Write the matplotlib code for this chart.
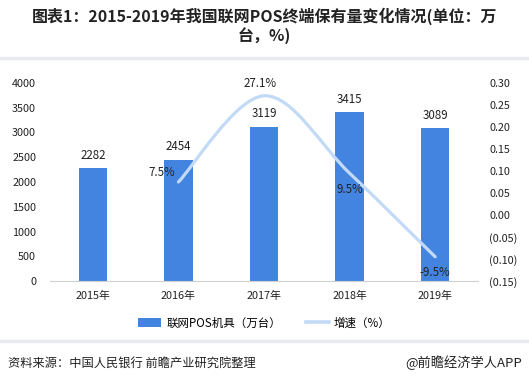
import matplotlib
matplotlib.use('Agg')
import matplotlib.pyplot as plt
from matplotlib.path import Path
from matplotlib.patches import PathPatch
from matplotlib.ticker import FuncFormatter, MultipleLocator
from matplotlib.lines import Line2D
from matplotlib.patches import Patch

plt.rcParams['font.family'] = ['Noto Sans CJK SC', 'DejaVu Sans']

years = ['2015年', '2016年', '2017年', '2018年', '2019年']
pos_counts = [2282, 2454, 3119, 3415, 3089]
growth_years = [1, 2, 3, 4]
growth = [0.075, 0.271, 0.095, -0.095]
growth_labels = ['7.5%', '27.1%', '9.5%', '-9.5%']

bar_color = '#4384E0'
line_color = '#C2DAF6'

fig = plt.figure(figsize=(5.29, 3.86), dpi=100)
ax = fig.add_axes([50 / 529, 1 - 281 / 386, 428 / 529, 198 / 386])
ax2 = ax.twinx()

x = list(range(len(years)))
ax.bar(x, pos_counts, width=0.33, color=bar_color, zorder=2)
for xi, v in zip(x, pos_counts):
    ax.annotate(str(v), (xi, v), xytext=(0, 4.5), textcoords='offset points',
                ha='center', va='bottom', fontsize=8.3, color='#222222')

ax.set_xlim(-0.5, len(years) - 0.5)
ax.set_ylim(0, 4000)
ax.yaxis.set_major_locator(MultipleLocator(500))
ax.set_xticks(x)
ax.set_xticklabels(years)
ax.tick_params(axis='both', length=0, labelsize=7.8, colors='#222222')
ax.tick_params(axis='x', pad=7)
ax.tick_params(axis='y', pad=10)
for s in ['top', 'left', 'right']:
    ax.spines[s].set_visible(False)
ax.spines['bottom'].set_color('#D0D0D0')

# smooth line through growth points (Catmull-Rom style bezier)
pts = list(zip(growth_years, growth))
verts = [pts[0]]
codes = [Path.MOVETO]
n = len(pts)
for i in range(n - 1):
    p0 = pts[i - 1] if i > 0 else pts[i]
    p1 = pts[i]
    p2 = pts[i + 1]
    p3 = pts[i + 2] if i + 2 < n else pts[i + 1]
    c1 = (p1[0] + (p2[0] - p0[0]) / 6, p1[1] + (p2[1] - p0[1]) / 6)
    c2 = (p2[0] - (p3[0] - p1[0]) / 6, p2[1] - (p3[1] - p1[1]) / 6)
    verts += [c1, c2, p2]
    codes += [Path.CURVE4, Path.CURVE4, Path.CURVE4]
ax2.add_patch(PathPatch(Path(verts, codes), facecolor='none',
                        edgecolor=line_color, lw=2.3, capstyle='round', zorder=3))

offsets = [(-12, 7), (-3, 9), (0, -12), (0, -11.5)]
for xi, v, lab, off in zip(growth_years, growth, growth_labels, offsets):
    ax2.annotate(lab, (xi, v), xytext=off, textcoords='offset points',
                 ha='center', va='center', fontsize=8.3, color='#222222', zorder=4)

ax2.set_ylim(-0.15, 0.30)
ax2.yaxis.set_major_locator(MultipleLocator(0.05))


def fmt(v, pos):
    if v < -1e-9:
        return '({:.2f})'.format(-v)
    return '{:.2f}'.format(abs(v))


ax2.yaxis.set_major_formatter(FuncFormatter(fmt))
ax2.tick_params(axis='y', length=0, labelsize=7.8, colors='#222222', pad=8)
for s in ['top', 'left', 'right', 'bottom']:
    ax2.spines[s].set_visible(False)

handles = [Patch(facecolor=bar_color, edgecolor='none'),
           Line2D([0], [0], color=line_color, lw=2.6)]
fig.legend(handles, ['联网POS机具（万台）', '增速（%）'], loc='center',
           bbox_to_anchor=(0.5, 1 - 323 / 386), ncol=2, frameon=False,
           fontsize=8.3, handlelength=2.0, handleheight=0.7, handletextpad=0.4,
           columnspacing=2.2)

fig.text(0.5, 1 - 16 / 386, '图表1：2015-2019年我国联网POS终端保有量变化情况(单位：万',
         ha='center', va='center', fontsize=11.5, fontweight='bold', color='#222222')
fig.text(0.5, 1 - 36 / 386, '台，%)', ha='center', va='center', fontsize=11.5,
         fontweight='bold', color='#222222')

fig.add_artist(Line2D([0, 1], [1 - 58 / 386] * 2, color='#E8EAF0', lw=2.5))
fig.add_artist(Line2D([0, 1], [1 - 341 / 386] * 2, color='#E8EAF0', lw=2.5))

fig.text(8 / 529, 1 - 363 / 386, '资料来源：中国人民银行 前瞻产业研究院整理',
         ha='left', va='center', fontsize=8.8, color='#222222')
fig.text(522 / 529, 1 - 363 / 386, '@前瞻经济学人APP',
         ha='right', va='center', fontsize=9.5, color='#222222')

fig.savefig('out.png', dpi=100, facecolor='white')
